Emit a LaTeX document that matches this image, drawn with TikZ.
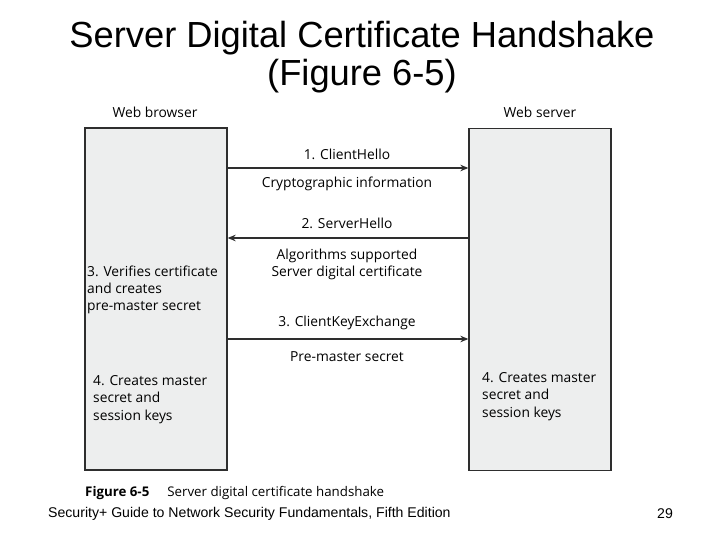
\documentclass[tikz,border=0pt]{standalone}
\usepackage{fontspec}
\setmainfont{Liberation Sans}
\newfontfamily\figfont{Open Sans}
\usetikzlibrary{arrows.meta}
\definecolor{boxgray}{HTML}{EDEEEE}
\definecolor{linegray}{HTML}{2E2E2E}
\begin{document}
\begin{tikzpicture}[x=1pt,y=-1pt,
    party/.style={draw=linegray,line width=1.3pt,fill=boxgray,inner sep=0pt,
      minimum width=142pt,minimum height=342pt},
    msg/.style={draw=linegray,line width=1.3pt,-{Stealth[length=8pt,width=6.5pt]}},
    lbl/.style={font=\figfont\fontsize{13.8}{17}\selectfont,text=black,inner sep=0pt},
    note/.style={lbl,align=left,anchor=north west},
    keys/.style={note,font=\figfont\fontsize{13.8}{17.6}\selectfont}]
  \useasboundingbox (0,0) rectangle (720,540);
  % title
  \node[font=\fontsize{36.3}{38}\selectfont,align=center] (title) at (362,57)
    {Server Digital Certificate Handshake\\(Figure 6-5)};
  % the two parties
  \node[party] (browser) at (156,299) {};
  \node[party] (server) at (540,299.5) {};
  \node[lbl] (browserlbl) at (155,112) {Web browser};
  \node[lbl] (serverlbl) at (540,112) {Web server};
  % messages
  \draw[msg] (browser.east |- 0,168) -- (server.west |- 0,168);
  \draw[msg] (server.west |- 0,238) -- (browser.east |- 0,238);
  \draw[msg] (browser.east |- 0,339) -- (server.west |- 0,339);
  \node[lbl] (hello) at (347,154) {1. ClientHello};
  \node[lbl] (crypto) at (347,184) {Cryptographic information};
  \node[lbl] (shello) at (347,223) {2. ServerHello};
  \node[lbl,align=center] (algos) at (347,264.5)
    {Algorithms supported\\Server digital certificate};
  \node[lbl] (kex) at (347,323) {3. ClientKeyExchange};
  \node[lbl] (pms) at (347,357) {Pre-master secret};
  % notes inside the boxes
  \node[note] (verify) at (87,266)
    {3. Verifies certificate\\and creates\\pre-master secret};
  \node[keys] (bkeys) at (93,375)
    {4. Creates master\\secret and\\session keys};
  \node[keys] (skeys) at (482,372)
    {4. Creates master\\secret and\\session keys};
  % caption and footer
  \node[font=\figfont\fontsize{13.3}{15}\selectfont,anchor=west,inner sep=0pt] (caption) at (85,493)
    {\textbf{Figure 6-5}\hspace{18pt}Server digital certificate handshake};
  \node[font=\fontsize{14.1}{16}\selectfont,anchor=west,inner sep=0pt] (footer) at (48,514)
    {Security+ Guide to Network Security Fundamentals, Fifth Edition};
  \node[font=\fontsize{14.1}{16}\selectfont,inner sep=0pt] (page) at (665,514) {29};
\end{tikzpicture}
\end{document}
